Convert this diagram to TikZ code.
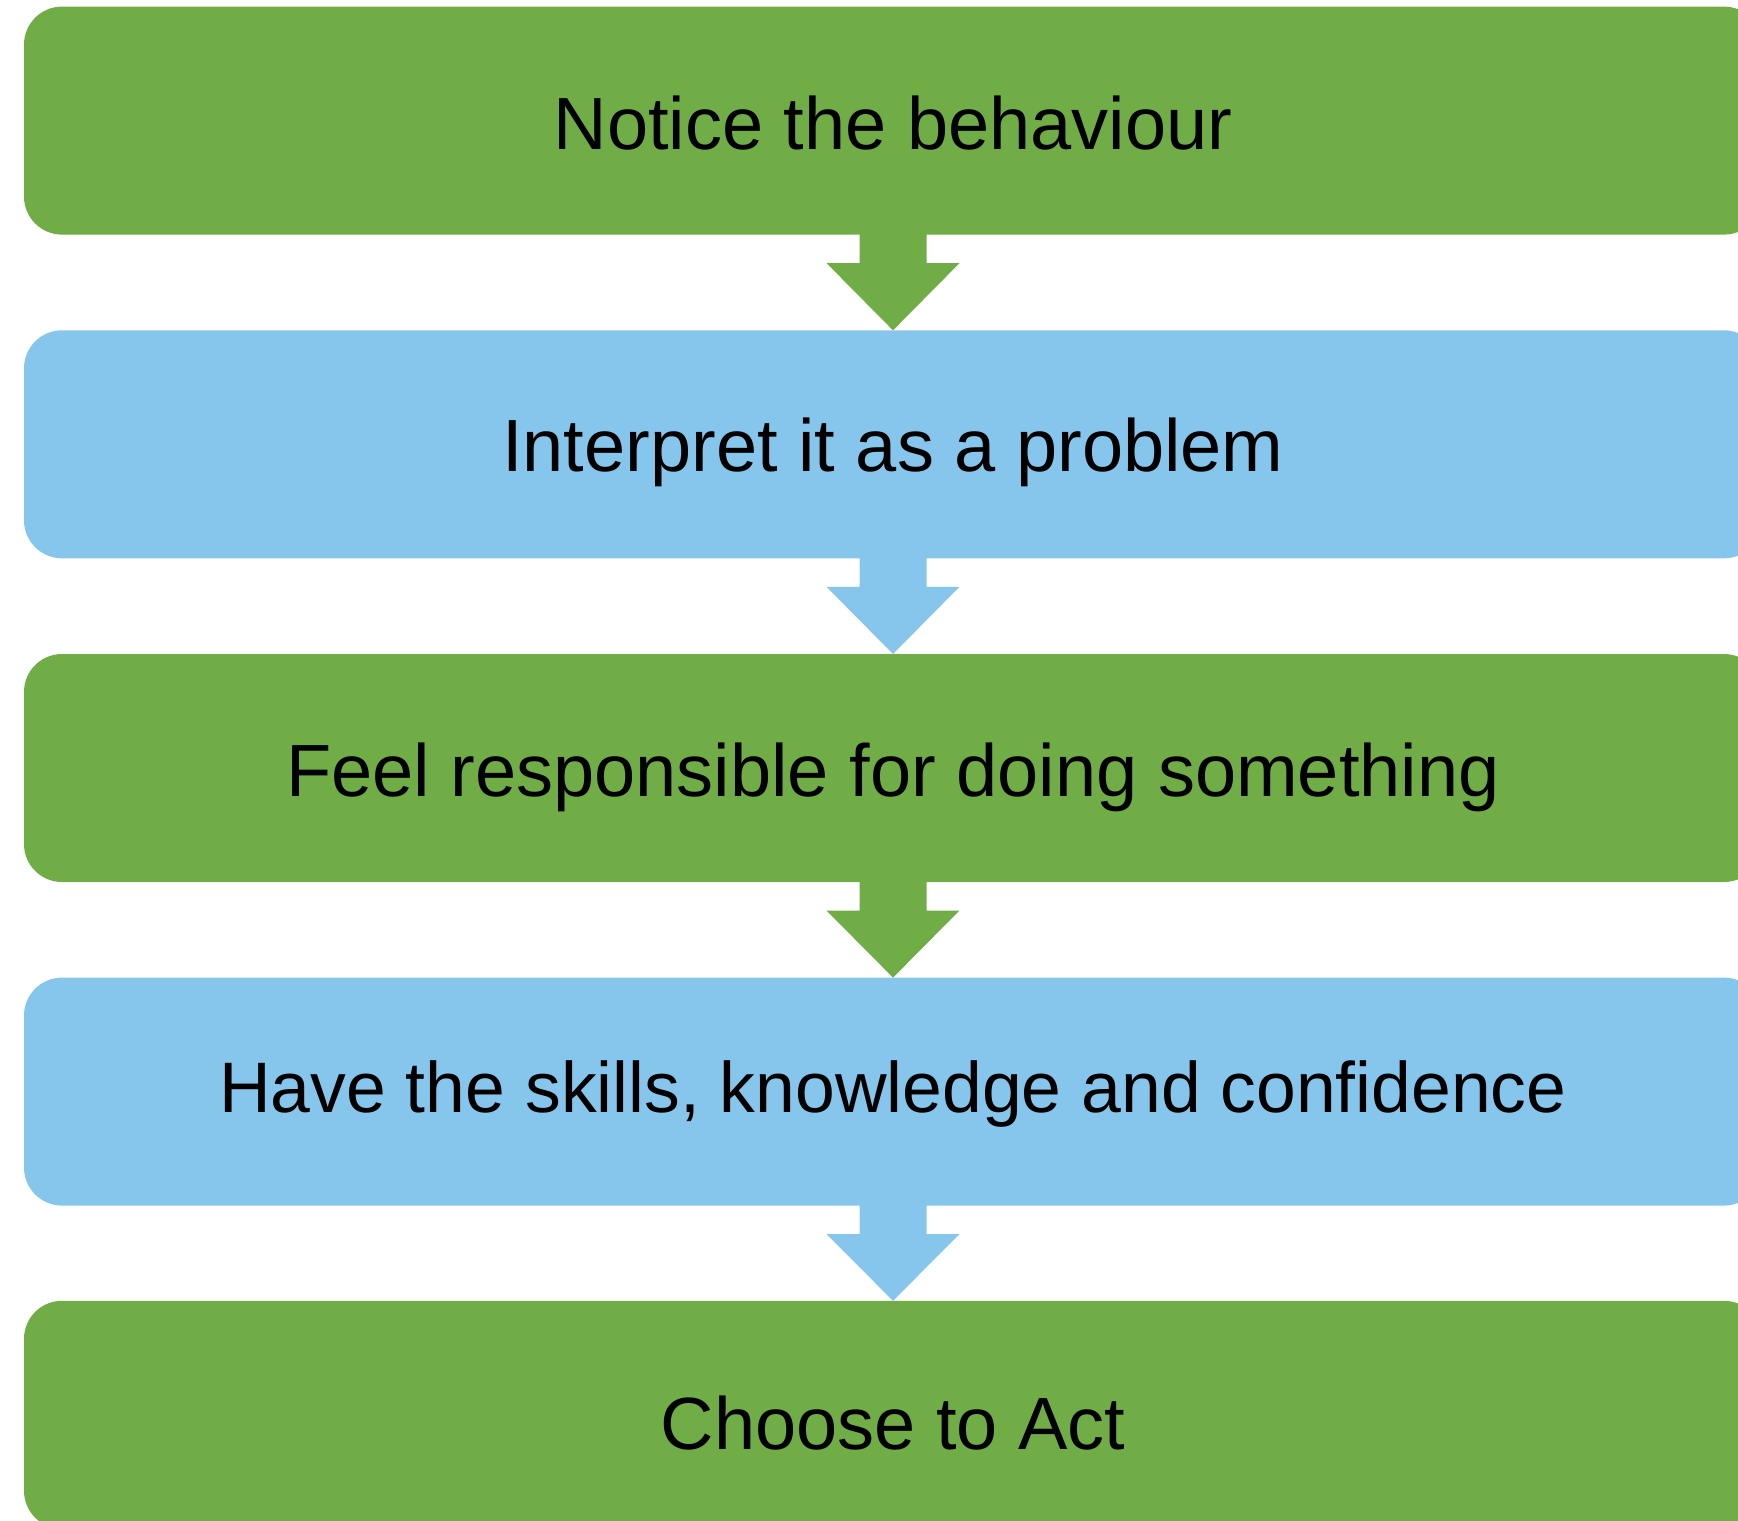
\documentclass[tikz,border=0pt]{standalone}
\usepackage{fontspec}
\setmainfont{Liberation Sans}
\usetikzlibrary{calc}
\definecolor{stepgreen}{HTML}{70AD47}
\definecolor{stepblue}{HTML}{87C6EC}
\begin{document}
\begin{tikzpicture}[x=1pt,y=-1pt,
  stepbox/.style={rectangle,rounded corners=38pt,inner sep=0pt,outer sep=0pt,
    minimum width=1738pt,minimum height=228pt,draw=none},
  steptext/.style={anchor=base,inner sep=0pt,outer sep=0pt,text=black,
    font=\fontsize{74}{80}\selectfont}]
\useasboundingbox (0,0) rectangle (1738,1521);
\clip (0,0) rectangle (1738,1521);

% the five steps
\node[stepbox,fill=stepgreen] (b1) at (893,120.6) {};
\node[stepbox,fill=stepblue]  (b2) at (893,444.3) {};
\node[stepbox,fill=stepgreen] (b3) at (893,768.0) {};
\node[stepbox,fill=stepblue]  (b4) at (893,1091.6) {};
\node[stepbox,fill=stepgreen] (b5) at (893,1414.8) {};

\node[steptext] (t1) at ($(b1.center)+(0,28.4)$) {Notice the behaviour};
\node[steptext] (t2) at ($(b2.center)+(0,27.4)$) {Interpret it as a problem};
\node[steptext] (t3) at ($(b3.center)+(0,28.7)$) {Feel responsible for doing something};
\node[steptext,font=\fontsize{71.5}{78}\selectfont] (t4) at ($(b4.center)+(0,20.7)$) {Have the skills, knowledge and confidence};
\node[steptext] (t5) at ($(b5.center)+(0,34.2)$) {Choose to Act};

% block arrows between consecutive steps
\foreach \a/\b/\c in {b1/b2/stepgreen,b2/b3/stepblue,b3/b4/stepgreen,b4/b5/stepblue}{
  \fill[\c] ($(\a.south)+(-33.5,-1)$) -- ($(\a.south)+(-33.5,28.5)$)
    -- ($(\a.south)+(-66.5,28.5)$) -- (\b.north)
    -- ($(\a.south)+(66.5,28.5)$) -- ($(\a.south)+(33.5,28.5)$)
    -- ($(\a.south)+(33.5,-1)$) -- cycle;
}
\end{tikzpicture}
\end{document}
